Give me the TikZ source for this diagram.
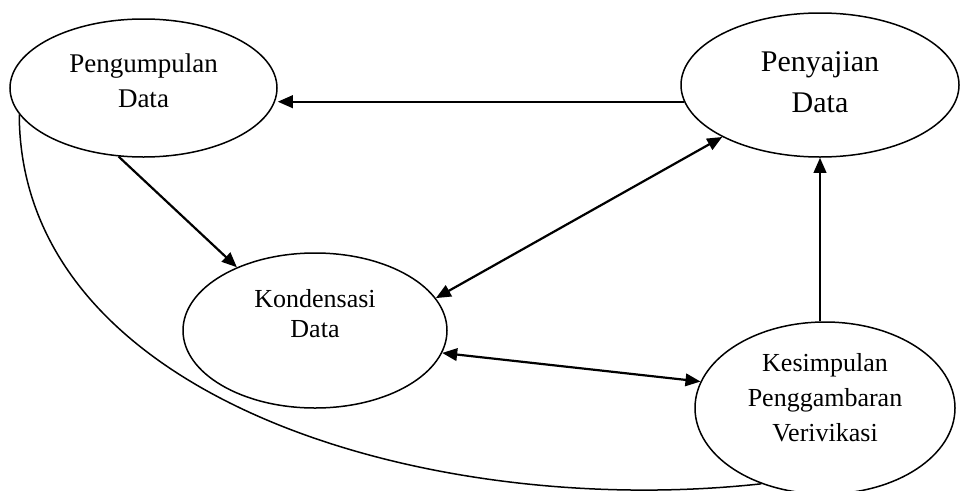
\documentclass[tikz,border=0pt]{standalone}
\usepackage{fontspec}
\setmainfont{Liberation Serif}
\usetikzlibrary{shapes.geometric, arrows.meta}

\begin{document}
\begin{tikzpicture}[
    x=1pt, y=1pt,
    bubble/.style={draw, ellipse, line width=1.5pt, inner sep=0pt},
    caption/.style={align=center},
    flow/.style={line width=2.2pt, -{Triangle[length=15pt, width=12.5pt]}},
    twoway/.style={line width=2.2pt, {Triangle[length=15pt, width=12.5pt]}-{Triangle[length=15pt, width=12.5pt]}},
    loop/.style={line width=1.5pt}
]

% Page
\useasboundingbox (0,0) rectangle (960,-490);
\clip (0,0) rectangle (960,-490);

% Ellipses
\node[bubble, minimum width=267pt, minimum height=138pt] (peng) at (143.5,-88) {};
\node[bubble, minimum width=278pt, minimum height=144pt] (peny) at (820,-85) {};
\node[bubble, minimum width=264pt, minimum height=155pt] (kond) at (315,-330.5) {};
\node[bubble, minimum width=260pt, minimum height=172pt] (kes) at (825,-408) {};

% Texts
\node[caption, font=\fontsize{27}{35}\selectfont] (pengtext) at ([yshift=7.7pt]peng.center) {Pengumpulan\\Data};
\node[caption, font=\fontsize{30}{41}\selectfont] (penytext) at ([yshift=2.7pt]peny.center) {Penyajian\\Data};
\node[caption, font=\fontsize{26}{30}\selectfont] (kondtext) at ([yshift=16.5pt]kond.center) {Kondensasi\\Data};
\node[caption, font=\fontsize{26}{35}\selectfont] (kestext) at ([yshift=10pt]kes.center) {Kesimpulan\\Penggambaran\\Verivikasi};

% Arrows
\draw[flow] (peny.187) -- (peny.187 -| peng.east);
\draw[flow] (peng.250) -- (kond.141);
\draw[twoway] (kond.15) -- (peny.208);
\draw[twoway] (kond.350) -- (kes.168);
\draw[flow] (kes.north -| peny.south) -- (peny.south);

% Long curve at the bottom
\draw[loop] (peng.192) .. controls (20,-400) and (430,-520) .. (kes.230);

\end{tikzpicture}
\end{document}
